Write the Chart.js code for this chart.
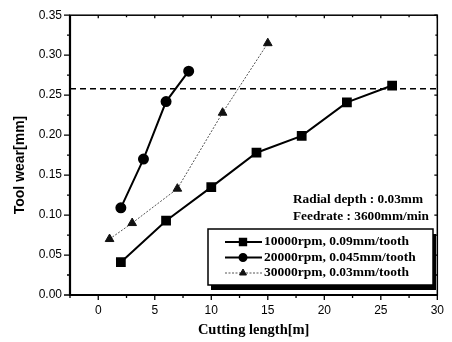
<!DOCTYPE html>
<html>
<head>
<meta charset="utf-8">
<script src="https://cdn.jsdelivr.net/npm/chart.js@4"></script>
<style>
  html, body { margin: 0; padding: 0; background: #fff; }
  #wrap { width: 452px; height: 342px; }
</style>
</head>
<body>
<div id="wrap"><canvas id="wearChart" width="452" height="342"></canvas></div>
<script>
// cutting length [m] and tool wear [mm] per spindle condition
const lenA = [2, 6, 10, 14, 18, 22, 26];
const wearA = [0.041, 0.093, 0.135, 0.178, 0.199, 0.241, 0.262];
const lenB = [2, 4, 6, 8];
const wearB = [0.109, 0.170, 0.242, 0.280];
const lenC = [1, 3, 7, 11, 15];
const wearC = [0.070, 0.090, 0.133, 0.228, 0.315];
const seriesNames = ['10000rpm, 0.09mm/tooth', '20000rpm, 0.045mm/tooth', '30000rpm, 0.03mm/tooth'];
const wearLimit = 0.258;
const xTicks = [0, 5, 10, 15, 20, 25, 30];
const yTicks = [0, 0.05, 0.10, 0.15, 0.20, 0.25, 0.30, 0.35];
const notes = ['Radial depth : 0.03mm', 'Feedrate : 3600mm/min'];

const toPoints = (xs, ys) => xs.map((x, i) => ({ x: x, y: ys[i] }));
const serif = '"Liberation Serif", "DejaVu Serif", serif';
const sans = '"Liberation Sans", Arial, sans-serif';

const frame = {
  id: 'frame',
  afterDraw(chart) {
    const ctx = chart.ctx;
    const a = chart.chartArea;
    const xs = chart.scales.x, ys = chart.scales.y;
    ctx.save();
    ctx.strokeStyle = '#000';
    // box
    ctx.lineWidth = 1.5;
    ctx.strokeRect(a.left, a.top, a.right - a.left, a.bottom - a.top);
    ctx.lineWidth = 2.2;
    ctx.beginPath();
    ctx.moveTo(a.left, a.top); ctx.lineTo(a.left, a.bottom); ctx.lineTo(a.right, a.bottom);
    ctx.stroke();
    // ticks
    ctx.lineWidth = 1.3;
    ctx.beginPath();
    for (let v = -2.5; v <= 30; v += 2.5) {
      const px = xs.getPixelForValue(v);
      const major = Math.abs(v % 5) < 1e-9;
      ctx.moveTo(px, a.bottom); ctx.lineTo(px, a.bottom + (major ? 5 : 3));
      ctx.moveTo(px, a.top); ctx.lineTo(px, a.top + (major ? 3 : 2));
    }
    for (let v = 0; v <= 0.3501; v += 0.025) {
      const py = ys.getPixelForValue(v);
      const major = Math.round(v * 1000) % 50 === 0;
      ctx.moveTo(a.left, py); ctx.lineTo(a.left - (major ? 6 : 3), py);
      ctx.moveTo(a.right, py); ctx.lineTo(a.right - (major ? 3 : 2), py);
    }
    ctx.stroke();

    // axis titles
    ctx.fillStyle = '#000';
    ctx.font = 'bold 14.5px ' + serif;
    ctx.textAlign = 'center';
    ctx.textBaseline = 'middle';
    ctx.fillText('Cutting length[m]', (a.left + a.right) / 2, 330);
    ctx.save();
    ctx.translate(20, 165);
    ctx.rotate(-Math.PI / 2);
    ctx.font = 'bold 14px ' + sans;
    ctx.fillText('Tool wear[mm]', 0, 0);
    ctx.restore();

    // notes
    ctx.font = 'bold 13.3px ' + serif;
    ctx.textAlign = 'left';
    ctx.fillText(notes[0], 293, 200);
    ctx.fillText(notes[1], 293, 217);

    // legend box with shadow
    const bx = 208, by = 229, bw = 225, bh = 56;
    ctx.fillStyle = '#000';
    ctx.fillRect(bx + 3, by + 5, bw, bh);
    ctx.fillStyle = '#fff';
    ctx.fillRect(bx, by, bw, bh);
    ctx.lineWidth = 1.5;
    ctx.strokeRect(bx, by, bw, bh);

    const rows = [242, 257.5, 273];
    chart.data.datasets.slice(0, 3).forEach((ds, i) => {
      const y = rows[i];
      ctx.save();
      ctx.strokeStyle = ds.borderColor;
      ctx.lineWidth = ds.borderWidth;
      ctx.setLineDash(ds.borderDash || []);
      ctx.beginPath();
      ctx.moveTo(225, y); ctx.lineTo(262, y);
      ctx.stroke();
      ctx.setLineDash([]);
      ctx.fillStyle = ds.pointBackgroundColor;
      ctx.strokeStyle = ds.pointBorderColor;
      Chart.helpers.drawPoint(ctx, {
        pointStyle: ds.pointStyle, radius: ds.pointRadius - 1, borderWidth: 1, rotation: 0
      }, 243, y);
      ctx.restore();
      ctx.fillStyle = '#000';
      ctx.font = 'bold 13.5px ' + serif;
      ctx.textAlign = 'left';
      ctx.fillText(seriesNames[i], 264, y);
    });
    ctx.restore();
  }
};

const ctx = document.getElementById('wearChart').getContext('2d');
new Chart(ctx, {
  type: 'scatter',
  data: {
    datasets: [
      {
        label: seriesNames[0],
        data: toPoints(lenA, wearA),
        showLine: true,
        borderColor: '#000', backgroundColor: '#000',
        borderWidth: 2, pointStyle: 'rect', pointRadius: 5.5,
        pointBackgroundColor: '#000', pointBorderColor: '#000'
      },
      {
        label: seriesNames[1],
        data: toPoints(lenB, wearB),
        showLine: true,
        borderColor: '#000', backgroundColor: '#000',
        borderWidth: 2, pointStyle: 'circle', pointRadius: 4.5,
        pointBackgroundColor: '#000', pointBorderColor: '#000'
      },
      {
        label: seriesNames[2],
        data: toPoints(lenC, wearC),
        showLine: true,
        borderColor: '#555', backgroundColor: '#111',
        borderWidth: 1, borderDash: [2, 1.5], pointStyle: 'triangle', pointRadius: 5,
        pointBackgroundColor: '#111', pointBorderColor: '#111'
      },
      {
        label: 'limit',
        data: [{ x: -2.5, y: wearLimit }, { x: 30, y: wearLimit }],
        showLine: true,
        borderColor: '#000', borderWidth: 1.5, borderDash: [6, 4],
        pointRadius: 0
      }
    ]
  },
  options: {
    responsive: false,
    animation: false,
    layout: { padding: { top: 15, right: 11, left: 0, bottom: 0 } },
    plugins: { legend: { display: false }, tooltip: { enabled: false } },
    scales: {
      x: {
        type: 'linear', min: -2.5, max: 30,
        afterBuildTicks: s => { s.ticks = xTicks.map(v => ({ value: v })); },
        afterFit: s => { s.height = 47; },
        grid: { display: false, drawTicks: false },
        border: { display: false },
        ticks: { color: '#000', font: { family: sans, size: 12 }, padding: 8, maxRotation: 0 }
      },
      y: {
        type: 'linear', min: 0, max: 0.35,
        afterBuildTicks: s => { s.ticks = yTicks.map(v => ({ value: v })); },
        afterFit: s => { s.width = 70; },
        grid: { display: false, drawTicks: false },
        border: { display: false },
        ticks: {
          color: '#000', font: { family: sans, size: 12 }, padding: 8,
          callback: v => v.toFixed(2)
        }
      }
    }
  },
  plugins: [frame]
});
</script>
</body>
</html>
